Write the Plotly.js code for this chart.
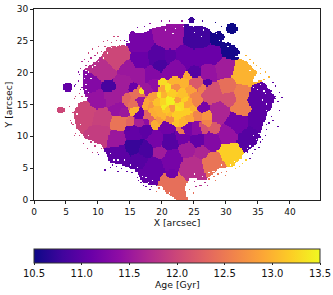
<!DOCTYPE html>
<html><head><meta charset="utf-8">
<script src="https://cdn.plot.ly/plotly-3.0.1.min.js"></script>
<style>html,body{margin:0;padding:0;background:#fff}#c{width:333px;height:295px}</style>
</head><body><div id="c"></div>
<script>
// Voronoi bins: centre [arcsec], age [Gyr], relative bin extent
const binX = [12.9,11.1,9.0,11.7,16.5,16.5,14.5,16.5,13.9,15.4,16.7,12.2,10,
21.2,19.3,21.2,18.1,19.7,22.3,21.2,23.6,25.4,25.9,27.9,28.7,30.6,30.9,24.6,25.1,27.1,29.8,32.9,27.1,30.3,32.4,27.9,25.4,26.2,30.6,35.3,32.4,35.3,31.8,33.7,30.3,27.8,28.2,29,27,26.4,30.6,27.9,26.2,24.6,23.9,21.7,23.1,21.5,19.7,17.3,18.6,17.8,21.5,25.6,23.2,21.2,19.2,27,23.1,25.4,
8,10.6,12.9,13.1,10.3,12.9,15.3,15.4,13.4,16.5,16.1,15.6,15.3,16.5,17.6,15,16.5,17.8,16.5,
20,21.8,23.6,24,18.6,18.9,20,21.2,21.5,20.1,23.1,24.6,24,22.8,20.7,22.3,19.3,23.1,24.3,25.4,21.2,18.6,19.2,20,24,25.4,17.6,14.7,17.3,20.7,23.9,18.6,17.6,14.5,13.7,26.4,5.3,4.2,
22,20.9,22.5,20.4,21.5,19.6,22.4,23.6,18.1,25.1,22.2,21.2,20.1,24.8,19.7];
const binY = [22.3,20.4,18.1,17.7,24.6,22.0,20.7,19.6,18.5,17.7,17.0,16.0,15.7,
25.6,22.5,22.5,19.6,21.5,21,20.1,22.5,25.4,22.5,22.8,25.6,23.6,26.7,28.3,20.1,20.1,20.9,20.1,18.5,17.9,16.8,17,18.4,17.6,16,16,14.4,12.6,12.1,9.7,10.2,9.1,11.3,13.7,13.3,14.4,7.4,5.8,7.5,5.0,7.9,2.0,0.5,6.3,7.4,7.5,5.2,3.5,3.9,9.4,9.7,9.1,9.4,12.1,10.7,11,
13.7,13,14.4,12.1,10.5,9.7,10.5,8.2,7.1,6.3,16.8,14.1,15.2,13.3,15.1,12.2,12.2,12.9,15.7,
18.4,18.8,18.5,19.5,13.7,11.9,15.4,15.7,16.8,16.5,16.5,17.3,15.2,14.9,14.1,13.3,14.1,12.2,13,13.3,12.6,16.2,15.4,13.3,13.8,15.4,12.6,11,11,11.3,11,18.4,17.6,15.7,13.8,11.3,17.7,14.1,
17.6,17.6,15.7,14.6,14.4,12.6,14.4,15.7,14.9,16.5,12.2,13.5,17.6,14.4,16.5];
const binAge = [12.0,11.75,11.3,10.85,11.2,11.1,11.5,11.5,11.55,11.1,13.3,11.55,11.45,
11.45,10.95,11.0,11.3,10.85,11.3,11.3,11.1,10.8,11.1,11.1,10.55,10.55,10.5,10.75,10.95,11.45,11.55,13.0,10.95,12.4,12.55,12.1,12.2,12.55,12.1,11.0,12.55,11.0,11.15,10.95,11.45,11.3,12.2,11.65,12.75,11.2,13.2,12.45,11.65,11.75,11.55,12.4,12.4,11.2,11.55,10.85,11.05,11.05,11.15,11.05,11.15,10.95,11.2,12.6,12.5,11.35,
12.0,11.95,11.45,12.45,11.9,11.5,11.05,10.75,11.0,10.95,12.4,13.0,12.4,11.1,12.9,12.3,11.6,12.3,11.5,
13.3,13.0,13.0,12.9,12.95,12.95,13.25,13.45,13.2,13.0,13.1,12.85,12.9,13.3,13.15,13.2,13.0,13.0,12.9,12.6,12.7,12.8,13.1,13.0,13.2,12.6,11.4,11.0,11.0,11.15,11.2,11.4,11.5,12.3,11.5,12.1,11.05,12.0,
12.7,13.35,12.85,13.4,12.8,12.8,13.35,13.2,12.75,12.6,13.1,13.05,12.9,13.0,13.35];
const binExtent = [1.2,1,.8,.7,1,.9,.9,.8,.8,.45,.35,1,1,
1.1,.9,.7,.8,.7,.8,.6,1,1.1,.9,.9,.8,.9,.6,.4,.6,.8,.9,1.1,.35,.7,.7,.7,.6,.35,.6,1,.7,1,.85,.95,.75,.7,.4,.7,.4,.4,.85,.9,.6,1,.7,1.2,.8,.9,.6,.7,.9,.9,.5,.6,.6,.7,.6,.35,.35,.5,
1.1,1,.8,.8,.9,.8,.7,.75,.9,.8,.6,.35,.5,.4,.35,.4,.5,.5,.4,
.35,.4,.35,.35,.4,.35,.35,.35,.4,.35,.4,.4,.4,.35,.4,.4,.4,.4,.35,.35,.35,.35,.35,.35,.35,.4,.4,.3,.5,.5,.5,.55,.5,.5,.5,.4,.5,.4,
.3,.3,.3,.3,.3,.3,.3,.3,.3,.3,.3,.3,.3,.3,.25];

// Outline of the covered field [arcsec]
const edgeX = [15,15.4,15.9,17,18.6,20.7,22.8,24.3,25.9,27,27.9,29,29.8,29.3,30.9,32.4,31.5,33.2,34.9,34,35.6,36.8,37.6,37.1,36.5,35.3,34.8,32.6,32.1,30.9,29,26.7,24.3,23.6,24,22.3,20.4,20,18.1,17,16.1,13.9,11.9,11.5,10.6,8,6.7,6.1,7.2,8.3,7.5,7.6,10,11.5,15,14.7];
const edgeY = [26.2,26.7,26.2,26.2,27,27.5,27.6,27.5,27.5,27,26.2,26.7,25.6,24.8,24.5,23.2,22.5,21.7,20.1,18.5,18.8,17.3,16.2,14.4,13.7,10.5,8.9,7.1,6.3,5.2,5,3.1,3.5,2,0,0,1.3,2.2,2.4,2.7,4.4,5.5,5.8,6.8,8.6,9.7,11.3,13.7,15.4,15.7,17.7,20.4,22,24,24.6,25.6];

// Detached patches: centre and radius [arcsec]
const patchX = [5.3,4.2,30.9,24.6];
const patchY = [17.7,14.1,26.9,28.3];
const patchR = [0.75,0.6,0.85,0.5];

// Isolated spaxels outside the outline
const dotX = [8,8.4,8.9,9.4,9.8,10.4,11,12,12.9,13.5,14,14.4,7.2,6.8,7,6.9,6.5,6.2,7.2,7,7.5,6.6,6.3,6.9,5.5,
33.6,34.4,34.8,35.4,36,36.6,37.4,37.8,38.2,38.7,38.1,38.3,37.8,37.3,29.5,30.3,31.2,
31.5,32,32.5,33,33.6,34,34.5,35,35.4,35.8,36,36.4,36.8,30,29.4,28.6,28,27.4,26.6,26,25.4,25,
11.1,11.9,12.8,13.6,14.5,15.3,16,16.7,17.5,18.4,19.5,21,7.7,8.3,9,9.9,8.8,6.5,6,5.7,6.3,
7.4,7.8,8.6,9.2,10,10.8,11.6,12.4,13.2,33,33.8,34.6,35.2,35.9,36.2,37,37.6,38,
31.2,32.4,33.2,34.2,35.2,36.2,37,29.8,28.2,27,25.8,24.8,24.4,
12.3,13.2,14,15,15.8,16.4,17.2,18,19,10,10.6,9.4,7,5.9,
16.2,17.4,18.2,19.8,21,23,26.2,28.2,29.4];
const dotY = [21.2,21.6,22.4,22.6,23,23.4,24.2,24.6,25,25.2,25,24.8,20.6,20.2,19.6,18.6,18.2,17.8,17.3,16.7,16.3,16.4,15.9,15.2,14.6,
22,21.5,21,20.6,20.2,19.4,18.5,17.8,16.8,16,11.5,14,15.8,12.6,24.3,24.6,24.4,
4.9,5.2,5.8,6.2,6.6,7.2,7.8,8.3,9,9.6,10.2,11,12,4.6,4.2,4.1,3.6,3.2,2.7,2.4,2,2.9,
4.7,5.1,5.3,4.9,4.6,4.2,3.5,2.8,2.1,2,1.9,.9,8.9,8.1,7.4,7.6,9,10.6,11.8,12.6,10.2,
21.6,22.2,23,23.6,24,24.8,25.2,25.6,25.6,22.6,22,21.2,19.8,18.8,17.6,17,16.4,15.4,
5.6,6.6,7.6,8.6,9.8,11.8,13,3.9,3,2.4,2.2,1.2,1.6,
5.6,4.6,5.6,5,4.4,3,2.4,1.6,1.3,7,8.1,8.4,10,12.2,
27,27.4,27.7,28,28.1,28,28,27.8,27.2];

// Empty spaxels inside the outline
const holeX = [8,8.2,8.6,9,8,8.1,8.4,8.3,10.2,10.8,11.4,12,20.5,22,21.7,26,25.2,28.5,28.9,34.9,34.2,36,35.8,33.8,33.2,34.6,35,30.6,29.2,28.1,27.2,26.2,25,13,14,15,16,16.8,17.5,18.5,11.8,
7.8,8.9,9.4,7.7,7.9,12.8,13.4,14.3,18,19.2,23.4,24.9,26.5,30.2,31.8,33.7,35.4,35.9,36.4,36.2,34.4,33.3,31.4,27.8,24.7,21.1,17.9,15.6,14.6,12.4,10.9,9.4,8.4,7.2,6.7];
const holeY = [19.6,20.4,20,20.8,18.2,17.3,16.9,16.1,21.7,22.3,23.2,23.8,26.7,26.8,26,25.6,26.4,26,25.2,17.3,17.6,16.6,15.6,8.6,7.5,9.6,10.6,5.4,5.4,4.5,4.2,3.6,4,6.3,6.2,5.4,5,3.8,3.5,3,7.2,
19,19.2,21.2,17,15.9,24.2,24.3,24.4,26.8,27.2,27.2,27.2,26.6,24.2,22.8,20.4,18.1,17.1,15,14,10,8.2,6,4.4,3.1,1.2,2.8,4.8,5.1,6.2,7.8,8.9,10.1,11.9,13.4];

const xTicks = [0,5,10,15,20,25,30,35,40];
const yTicks = [0,5,10,15,20,25,30];
const plasma = ['#0d0887','#41049d','#6a00a8','#8f0da4','#b12a90','#cc4778','#e16462','#f1844b','#fca636','#fcce25','#f0f921'];

const step = 0.2, nx = 224, ny = 150;
const xs = Array.from({length:nx},(_,i)=>(i+0.5)*step);
const ys = Array.from({length:ny},(_,j)=>(j+0.5)*step);
function insideEdge(x,y){
  let c=false;
  for(let i=0,j=edgeX.length-1;i<edgeX.length;j=i++){
    if((edgeY[i]>y)!==(edgeY[j]>y) && x<(edgeX[j]-edgeX[i])*(y-edgeY[i])/(edgeY[j]-edgeY[i])+edgeX[i]) c=!c;
  }
  return c;
}
function binAt(x,y){
  let best=Infinity,age=null;
  for(let k=0;k<binX.length;k++){
    const d=Math.hypot(x-binX[k],y-binY[k])/binExtent[k];
    if(d<best){best=d;age=binAge[k];}
  }
  return age;
}
const cell=(x,y)=>[Math.floor(x/step),Math.floor(y/step)];
const mask=new Set();
for(let j=0;j<ny;j++)for(let i=0;i<nx;i++){
  let on=insideEdge(xs[i],ys[j]);
  for(let p=0;p<patchX.length&&!on;p++) on=Math.hypot(xs[i]-patchX[p],ys[j]-patchY[p])<=patchR[p];
  if(on)mask.add(i+','+j);
}
holeX.forEach((x,k)=>{const[c,r]=cell(x,holeY[k]);mask.delete(c+','+r);});
dotX.forEach((x,k)=>{const[c,r]=cell(x,dotY[k]);mask.add(c+','+r);});
const z=ys.map((y,j)=>xs.map((x,i)=>mask.has(i+','+j)?binAt(x,y):null));

const font={family:'"DejaVu Sans",sans-serif',size:9,color:'#111'};
const barFont={family:'"DejaVu Sans",sans-serif',size:10,color:'#111'};
const titleFont={family:'"DejaVu Sans",sans-serif',size:9.3,color:'#111'};
const trace={type:'heatmap',x:xs,y:ys,z:z,zmin:10.5,zmax:13.5,zsmooth:false,hoverinfo:'skip',
  colorscale:plasma.map((c,i)=>[i/(plasma.length-1),c]),
  colorbar:{orientation:'h',x:0,xanchor:'left',xref:'paper',y:1-249/295,yanchor:'top',yref:'container',
    lenmode:'fraction',len:1,thicknessmode:'pixels',thickness:14,xpad:0,ypad:0,
    outlinecolor:'#333',outlinewidth:1,tick0:10.5,dtick:0.5,tickmode:'linear',tickformat:'.1f',
    ticks:'outside',ticklen:2,tickcolor:'#222',tickwidth:1,tickfont:barFont}};
const axis={showgrid:false,zeroline:false,showline:true,mirror:true,linecolor:'#222',linewidth:1,
  ticks:'outside',ticklen:3,tickcolor:'#222',tickfont:font};
const layout={width:333,height:295,margin:{l:34,r:13,t:9,b:95},paper_bgcolor:'#fff',plot_bgcolor:'#fff',font:font,
  xaxis:{...axis,range:[0,44.7],tickvals:xTicks,title:{text:'X [arcsec]',font:titleFont,standoff:0}},
  yaxis:{...axis,range:[0,30],tickvals:yTicks,title:{text:'Y [arcsec]',font:titleFont,standoff:2}},
  annotations:[{text:'Age [Gyr]',xref:'paper',yref:'paper',x:0.5,y:-0.445,xanchor:'center',yanchor:'middle',showarrow:false,font:titleFont}]};
Plotly.newPlot('c',[trace],layout,{displayModeBar:false,responsive:false});
</script></body></html>
